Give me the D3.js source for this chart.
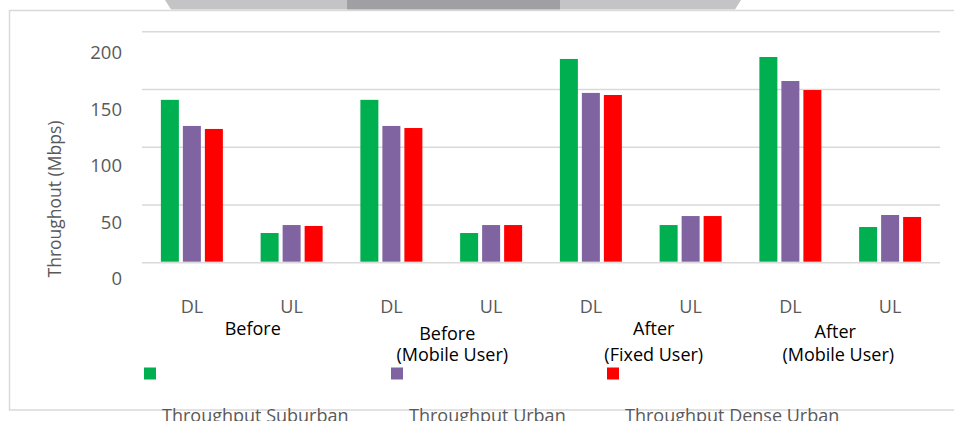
<!DOCTYPE html>
<html>
<head>
<meta charset="utf-8">
<script src="https://cdn.jsdelivr.net/npm/d3@7"></script>
<style>
  html, body { margin: 0; padding: 0; background: #fff; }
  svg { display: block; font-family: "Open Sans", sans-serif; }
</style>
</head>
<body>
<svg id="chart" width="954" height="421"></svg>
<script>
// ---- data ----
const categories = ["DL", "UL", "DL", "UL", "DL", "UL", "DL", "UL"];
const groupLabels = [["Before"], ["Before", "(Mobile User)"], ["After", "(Fixed User)"], ["After", "(Mobile User)"]];
const seriesNames = ["Throughput Suburban", "Throughput Urban", "Throughput Dense Urban"];
const suburban   = [141, 25.7, 141, 25.7, 176.4, 32.6, 178.1, 30.9];
const urban      = [118.4, 32.6, 118.4, 32.6, 147, 40.4, 157.3, 41.3];
const denseUrban = [115.8, 31.8, 116.6, 32.6, 145.2, 40.4, 149.5, 39.6];
const yTicks = [0, 50, 100, 150, 200];

const colors = ["#00B050", "#8064A2", "#FF0000"];
const seriesValues = [suburban, urban, denseUrban];

const svg = d3.select("#chart");

// top tab decoration
svg.append("polygon")
  .attr("points", "165,0 741,0 735,9.5 171,9.5")
  .attr("fill", "#c4c4c6");
svg.append("rect").attr("x", 347).attr("y", 0).attr("width", 213).attr("height", 9.5).attr("fill", "#a09fa4");

// frame
const frame = svg.append("g").attr("stroke", "#d9d9d9").attr("stroke-width", 1.5).attr("fill", "none");
frame.append("path").attr("d", "M954,10.5 H9.5 V410 H954");

// scales
const plotLeft = 142, plotRight = 940, plotTop = 31.7, plotBottom = 262.7;
const ids = categories.map((c, i) => i);
const x0 = d3.scaleBand().domain(ids).range([plotLeft, plotRight]).paddingInner(0).paddingOuter(0);
const x1 = d3.scaleBand().domain(d3.range(seriesNames.length))
  .range([0, x0.bandwidth()]).paddingInner(4 / 22).paddingOuter(0.858);
const y = d3.scaleLinear().domain([0, 200]).range([plotBottom, plotTop]);
// tick labels are drawn slightly offset from the gridlines, as in the reference
const yLab = d3.scaleLinear().domain([0, 200]).range([285, 59.3]);

// gridlines
svg.append("g").selectAll("line").data(yTicks).join("line")
  .attr("x1", plotLeft).attr("x2", plotRight)
  .attr("y1", d => y(d)).attr("y2", d => y(d))
  .attr("stroke", "#d9d9d9").attr("stroke-width", 1.5);

// y tick labels
svg.append("g").selectAll("text").data(yTicks).join("text")
  .attr("x", 122).attr("y", d => yLab(d))
  .attr("text-anchor", "end")
  .attr("font-size", 18.5).attr("fill", "#595959")
  .text(d => d);

// y axis title
svg.append("text")
  .attr("transform", "translate(61,199) rotate(-90)")
  .attr("text-anchor", "middle")
  .attr("font-size", 17.5).attr("fill", "#595959")
  .text("Throughout (Mbps)");

// bars
const barData = [];
ids.forEach(i => seriesValues.forEach((vals, s) => barData.push({ i, s, v: vals[i] })));
svg.append("g").selectAll("rect").data(barData).join("rect")
  .attr("x", d => x0(d.i) + x1(d.s))
  .attr("width", x1.bandwidth())
  .attr("y", d => y(d.v))
  .attr("height", d => y(0) - 1 - y(d.v))
  .attr("fill", d => colors[d.s]);

// category labels
svg.append("g").selectAll("text").data(ids).join("text")
  .attr("x", i => x0(i) + x0.bandwidth() / 2)
  .attr("y", 313)
  .attr("text-anchor", "middle")
  .attr("font-size", 18).attr("fill", "#595959")
  .text(i => categories[i]);

// group labels
const groupDx = [11, 11, 13, -2];
const groupLineY = [[335], [340, 361], [335, 361], [338, 361]];
const groupLineDx = [[0], [-5, 0], [0, 0], [-3, 0]];
groupLabels.forEach((lines, g) => {
  const cx = (x0(2 * g) + x0(2 * g + 1) + x0.bandwidth()) / 2 + groupDx[g];
  lines.forEach((t, k) => {
    svg.append("text")
      .attr("x", cx + groupLineDx[g][k]).attr("y", groupLineY[g][k])
      .attr("text-anchor", "middle")
      .attr("font-size", 18).attr("fill", "#000")
      .text(t);
  });
});

// legend
const legendX = [144, 391, 607];
const legend = svg.append("g").selectAll("g").data(seriesNames).join("g")
  .attr("transform", (d, i) => `translate(${legendX[i]},0)`);
legend.append("rect").attr("x", 0).attr("y", 367.5).attr("width", 12).attr("height", 12)
  .attr("fill", (d, i) => colors[i]);
legend.append("text").attr("x", 18).attr("y", 421.5)
  .attr("font-size", 18).attr("fill", "#595959")
  .text(d => d);
</script>
</body>
</html>
